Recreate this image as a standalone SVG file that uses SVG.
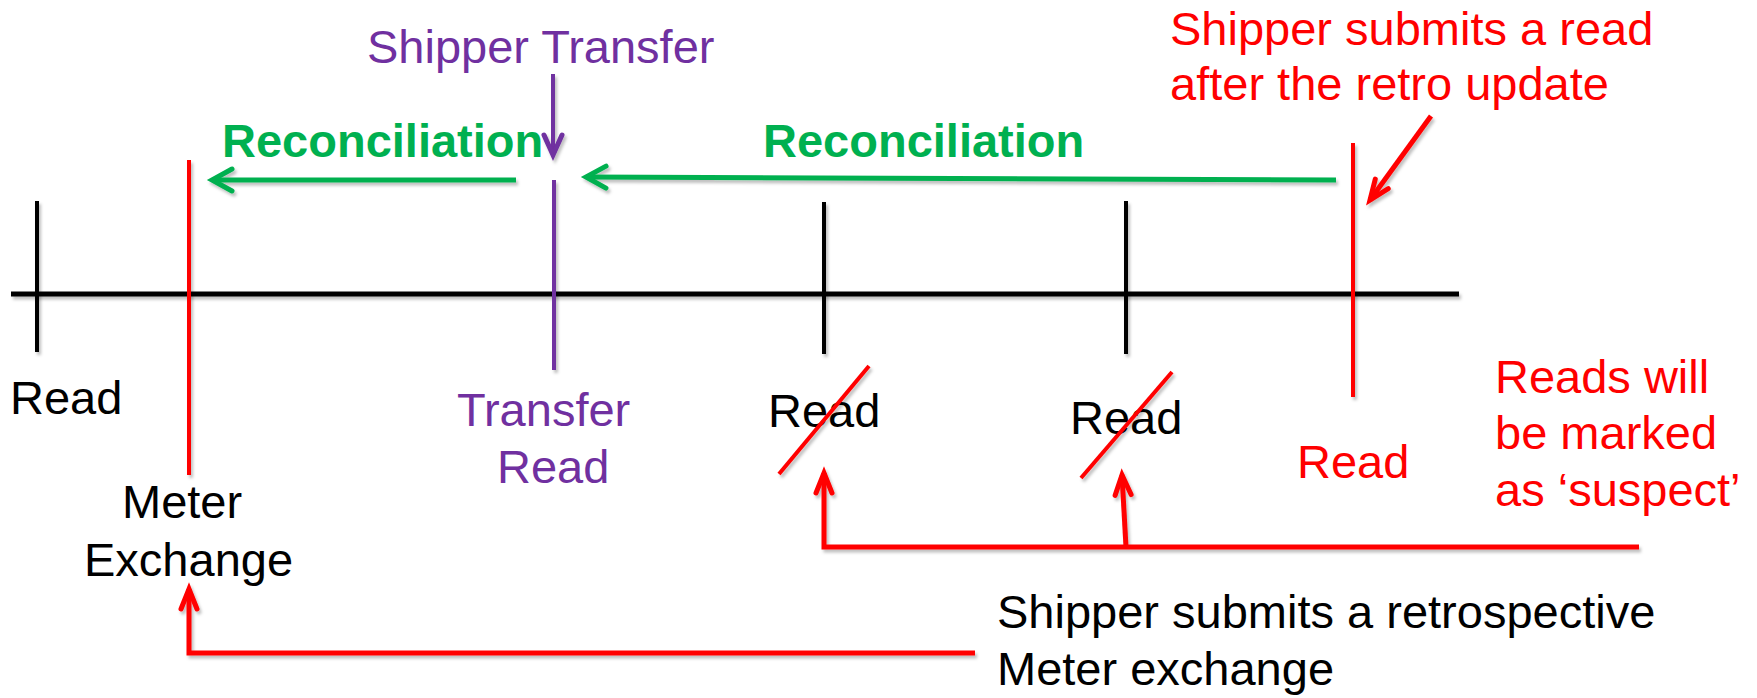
<svg xmlns="http://www.w3.org/2000/svg" width="1757" height="698" viewBox="0 0 1757 698">
<style>
text{font-family:"Liberation Sans",Arial,sans-serif;font-size:47px}
.k{fill:#000}.r{fill:#FF0000}.p{fill:#7030A0}.g{fill:#00B050;font-weight:bold}
.ln{fill:none;stroke-linecap:butt}
.bk{stroke:#000;stroke-width:4}
.rd{stroke:#FF0000;stroke-width:4}
.pu{stroke:#7030A0;stroke-width:4}
.gr{stroke:#00B050;stroke-width:5}
.rc{stroke:#FF0000;stroke-width:5}
</style>
<defs>
<filter id="sh" filterUnits="userSpaceOnUse" x="0" y="0" width="1757" height="698">
<feDropShadow dx="2" dy="3" stdDeviation="1.5" flood-color="#000" flood-opacity="0.25"/>
</filter>
<marker id="ag" viewBox="-26 -14 30 28" refX="0" refY="0" markerWidth="30" markerHeight="28" markerUnits="userSpaceOnUse" orient="auto" overflow="visible">
<path d="M-20 -11 L0 0 L-20 11" fill="none" stroke="#00B050" stroke-width="5" stroke-linejoin="miter" stroke-linecap="round"/>
</marker>
<marker id="ar" viewBox="-26 -14 30 28" refX="0" refY="0" markerWidth="30" markerHeight="28" markerUnits="userSpaceOnUse" orient="auto" overflow="visible">
<path d="M-20 -8 L0 0 L-20 8" fill="none" stroke="#FF0000" stroke-width="5" stroke-linejoin="miter" stroke-linecap="round"/>
</marker>
<marker id="ap" viewBox="-26 -14 30 28" refX="0" refY="0" markerWidth="30" markerHeight="28" markerUnits="userSpaceOnUse" orient="auto" overflow="visible">
<path d="M-20 -9 L0 0 L-20 9" fill="none" stroke="#7030A0" stroke-width="5" stroke-linejoin="miter" stroke-linecap="round"/>
</marker>
</defs>
<rect width="1757" height="698" fill="#fff"/>

<g id="timeline">
<line class="ln" x1="11" y1="294" x2="1459" y2="294" stroke="#000" stroke-width="5" filter="url(#sh)"/>
</g>

<g id="node-read-1">
<line class="ln bk" x1="37" y1="201" x2="37" y2="352" filter="url(#sh)"/>
<text class="k" x="10" y="414">Read</text>
</g>

<g id="node-meter-exchange">
<line class="ln rd" x1="189" y1="160" x2="189" y2="475" filter="url(#sh)"/>
<text class="k" x="122" y="518">Meter</text>
<text class="k" x="84" y="576">Exchange</text>
</g>

<g id="node-shipper-transfer">
<text class="p" x="367" y="63">Shipper Transfer</text>
</g>

<g id="node-transfer-read">
<line class="ln pu" x1="554" y1="180" x2="554" y2="370" filter="url(#sh)"/>
<text class="p" x="457" y="426">Transfer</text>
<text class="p" x="497" y="483">Read</text>
</g>

<g id="node-read-2">
<line class="ln bk" x1="824" y1="202" x2="824" y2="354" filter="url(#sh)"/>
<text class="k" x="768" y="427">Read</text>
<line class="ln rd" x1="779" y1="474" x2="869" y2="366" filter="url(#sh)"/>
</g>

<g id="node-read-3">
<line class="ln bk" x1="1126" y1="201" x2="1126" y2="354" filter="url(#sh)"/>
<text class="k" x="1070" y="434">Read</text>
<line class="ln rd" x1="1081" y1="478" x2="1172" y2="372" filter="url(#sh)"/>
</g>

<g id="node-read-red">
<line class="ln rd" x1="1353" y1="143" x2="1353" y2="397" filter="url(#sh)"/>
<text class="r" x="1297" y="478">Read</text>
</g>

<g id="node-shipper-read">
<text class="r" x="1170" y="45">Shipper submits a read</text>
<text class="r" x="1170" y="100">after the retro update</text>
</g>

<g id="node-suspect">
<text class="r" x="1495" y="393">Reads will</text>
<text class="r" x="1495" y="449">be marked</text>
<text class="r" x="1495" y="506">as ‘suspect’</text>
</g>

<g id="node-retro">
<text class="k" x="997" y="628">Shipper submits a retrospective</text>
<text class="k" x="997" y="685">Meter exchange</text>
</g>

<g id="node-reconciliation-labels">
<text class="g" x="222" y="157">Reconciliation</text>
<text class="g" x="763" y="157">Reconciliation</text>
</g>

<g id="connectors" filter="url(#sh)">
<path class="ln gr" d="M516 180 H212" marker-end="url(#ag)"/>
<path class="ln gr" d="M1336 180 L586 177" marker-end="url(#ag)"/>
<path class="ln pu" d="M553 74 V155" marker-end="url(#ap)"/>
<path class="ln rc" d="M1431 116 L1370 200" marker-end="url(#ar)"/>
<path class="ln rc" d="M1639 547 H824 V473" marker-end="url(#ar)"/>
<path class="ln rc" d="M1126 547 L1122 475" marker-end="url(#ar)"/>
<path class="ln rc" d="M975 653 H189 V589" marker-end="url(#ar)"/>
</g>
</svg>
